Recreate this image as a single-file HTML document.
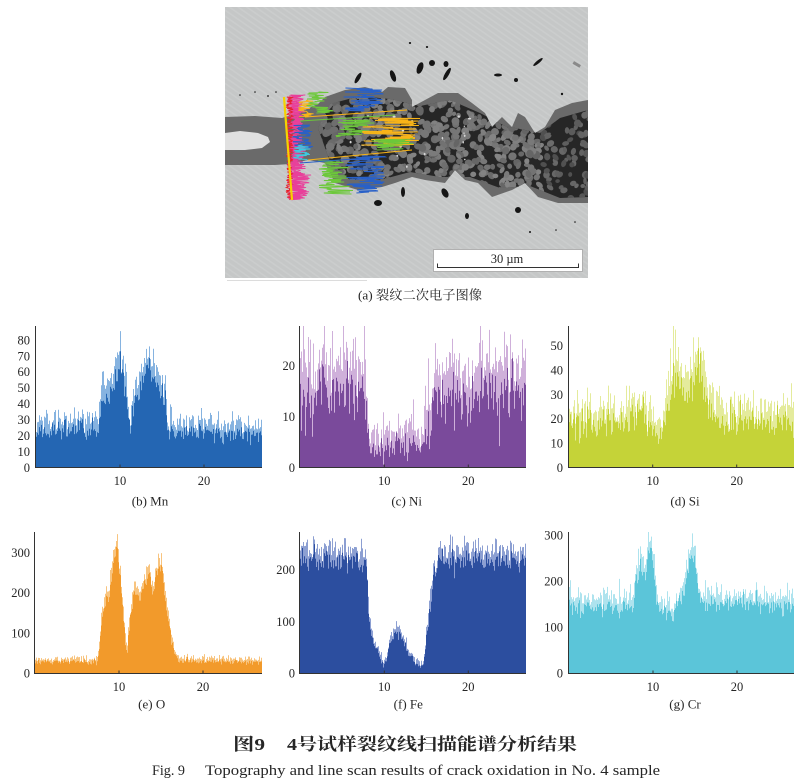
<!DOCTYPE html>
<html><head><meta charset="utf-8">
<style>
html,body{margin:0;padding:0;background:#fff;}
svg{display:block}
text{font-family:"Liberation Serif","Noto Serif CJK SC",serif;fill:#262626;}
.tk{font-size:12.5px;}
.cap{font-size:13px;}
</style></head><body>
<svg id="s" width="800" height="784" viewBox="0 0 800 784" xmlns="http://www.w3.org/2000/svg">
<defs>
<clipPath id="imgclip"><rect x="225" y="7" width="363" height="271"/></clipPath>
<clipPath id="crackclip"><polygon points="225,117 255,116 282,118 300,112 318,104 325,97 345,90 365,87 382,92 388,87 405,88 412,100 412,107 425,100 438,93 458,93 472,103 485,113 492,127 502,117 512,127 518,113 525,117 535,133 545,127 555,110 572,103 588,100 588,203 558,203 538,197 525,183 512,190 492,197 478,183 465,180 455,170 445,183 425,180 412,177 395,183 382,187 358,190 335,183 325,163 308,160 290,164 275,165 250,165 225,165"/></clipPath>
<clipPath id="coreclip"><polygon points="318,128 330,104 360,96 390,99 420,106 450,100 480,113 505,126 540,133 560,118 588,110 588,197 560,198 530,186 500,188 470,177 440,177 410,172 380,180 350,180 330,162"/></clipPath>
<pattern id="streak" width="5" height="5" patternUnits="userSpaceOnUse" patternTransform="rotate(-55)"><rect width="5" height="5" fill="#c5c7c7"/><rect width="1.6" height="5" fill="#cbcdcd"/></pattern>
</defs>

<!-- SEM image -->
<g clip-path="url(#imgclip)">
  <rect x="225" y="7" width="363" height="271" fill="url(#streak)"/>
  <g clip-path="url(#crackclip)">
    <rect x="225" y="80" width="363" height="130" fill="#6a6a6a"/>
    <g clip-path="url(#coreclip)">
      <rect x="310" y="90" width="280" height="115" fill="#262626"/>
      <g id="grains"></g>
    </g>
  </g>
  <polygon points="225,133 240,131 258,133 268,137 270,142 262,148 245,150 225,150" fill="#e0e0e0"/>
  <g fill="#151515">
    <ellipse cx="358" cy="78" rx="2" ry="6" transform="rotate(30 358 78)"/>
    <ellipse cx="393" cy="76" rx="2.5" ry="6" transform="rotate(-20 393 76)"/>
    <ellipse cx="420" cy="68" rx="3" ry="6" transform="rotate(20 420 68)"/>
    <ellipse cx="432" cy="63" rx="3" ry="3"/>
    <ellipse cx="447" cy="74" rx="2" ry="7" transform="rotate(30 447 74)"/>
    <ellipse cx="446" cy="64" rx="2.5" ry="3"/>
    <ellipse cx="538" cy="62" rx="1.5" ry="6" transform="rotate(50 538 62)"/>
    <ellipse cx="498" cy="75" rx="4" ry="1.5"/>
    <ellipse cx="516" cy="80" rx="2" ry="2"/>
    <ellipse cx="378" cy="203" rx="4" ry="3"/>
    <ellipse cx="403" cy="192" rx="2" ry="5"/>
    <ellipse cx="445" cy="193" rx="3" ry="5" transform="rotate(-30 445 193)"/>
    <ellipse cx="467" cy="216" rx="2" ry="3"/>
    <ellipse cx="518" cy="210" rx="3" ry="3"/>
    <ellipse cx="410" cy="43" rx="1.2" ry="1"/>
    <ellipse cx="427" cy="47" rx="1.2" ry="1"/>
    <ellipse cx="562" cy="94" rx="1.2" ry="1.2"/>
    <ellipse cx="240" cy="95" rx="0.8" ry="0.8"/>
    <ellipse cx="255" cy="92" rx="0.8" ry="0.8"/>
    <ellipse cx="268" cy="96" rx="0.9" ry="0.9"/>
    <ellipse cx="276" cy="92" rx="0.8" ry="0.8"/>
    <ellipse cx="530" cy="232" rx="1" ry="1"/>
    <ellipse cx="556" cy="230" rx="0.8" ry="0.8"/>
    <ellipse cx="575" cy="222" rx="0.8" ry="0.8"/>
  </g>
  <rect x="573" y="63" width="8" height="3" fill="#8a8a8a" transform="rotate(30 577 64)"/>
  <g id="traces"></g>
  <rect x="433.5" y="249.5" width="149" height="22" fill="#ffffff" stroke="#b0b0b0" stroke-width="1"/>
  <path d="M437.5 263.5 V267.5 H578.5 V263.5" fill="none" stroke="#333" stroke-width="1"/>
  <text x="507" y="263" text-anchor="middle" style="font-size:12.5px">30 µm</text>
</g>
<line x1="227" y1="280.5" x2="367" y2="280.5" stroke="#dcdcdc" stroke-width="1"/>
<text x="420" y="299.5" text-anchor="middle" style="font-size:13px" textLength="124" lengthAdjust="spacingAndGlyphs">(a) 裂纹二次电子图像</text>

<!-- bar groups -->
<g id="pb"></g><g id="pc"></g><g id="pd"></g><g id="pe"></g><g id="pf"></g><g id="pg"></g>

<!-- axes -->
<g fill="none" stroke="#333" stroke-width="1">
  <path d="M35.5 326 V467.5 H262"/>
  <path d="M299.5 326 V467.5 H526"/>
  <path d="M568.5 326 V467.5 H794"/>
  <path d="M34.5 532 V673.5 H262"/>
  <path d="M299.5 532 V673.5 H526"/>
  <path d="M568.5 532 V673.5 H794"/>
  <path d="M120 467.5 v-3 M204 467.5 v-3 M384.3 467.5 v-3 M468.3 467.5 v-3 M652.7 467.5 v-3 M736.7 467.5 v-3 M119 673.5 v-3 M203 673.5 v-3 M384.3 673.5 v-3 M468.3 673.5 v-3 M653 673.5 v-3 M737 673.5 v-3"/>
</g>

<!-- tick labels -->
<g class="tk" text-anchor="end">
  <text x="30" y="472">0</text>
  <text x="30" y="456">10</text>
  <text x="30" y="440.1">20</text>
  <text x="30" y="424.1">30</text>
  <text x="30" y="408.2">40</text>
  <text x="30" y="392.2">50</text>
  <text x="30" y="376.2">60</text>
  <text x="30" y="360.3">70</text>
  <text x="30" y="344.3">80</text>

  <text x="295" y="472">0</text>
  <text x="295" y="421">10</text>
  <text x="295" y="370">20</text>

  <text x="563" y="472">0</text>
  <text x="563" y="447.6">10</text>
  <text x="563" y="423.2">20</text>
  <text x="563" y="398.8">30</text>
  <text x="563" y="374.4">40</text>
  <text x="563" y="350">50</text>

  <text x="30" y="677.6">0</text>
  <text x="30" y="637.4">100</text>
  <text x="30" y="597.2">200</text>
  <text x="30" y="557">300</text>

  <text x="295" y="677.6">0</text>
  <text x="295" y="625.9">100</text>
  <text x="295" y="574.2">200</text>

  <text x="563" y="677.6">0</text>
  <text x="563" y="631.6">100</text>
  <text x="563" y="585.6">200</text>
  <text x="563" y="539.6">300</text>
</g>
<g class="tk" text-anchor="middle">
  <text x="120" y="485">10</text><text x="204" y="485">20</text>
  <text x="384.3" y="485">10</text><text x="468.3" y="485">20</text>
  <text x="652.7" y="485">10</text><text x="736.7" y="485">20</text>
  <text x="119" y="691">10</text><text x="203" y="691">20</text>
  <text x="384.3" y="691">10</text><text x="468.3" y="691">20</text>
  <text x="653" y="691">10</text><text x="737" y="691">20</text>
</g>
<g class="cap" text-anchor="middle">
  <text x="150" y="505.5">(b) Mn</text>
  <text x="406.7" y="505.5">(c) Ni</text>
  <text x="685" y="505.5">(d) Si</text>
  <text x="151.7" y="708.5">(e) O</text>
  <text x="408.3" y="708.5">(f) Fe</text>
  <text x="685" y="708.5">(g) Cr</text>
</g>

<!-- figure captions -->
<text x="233" y="750" style="font-size:17px;font-weight:bold" textLength="32" lengthAdjust="spacingAndGlyphs">图9</text>
<text x="287" y="750" style="font-size:17px;font-weight:bold" textLength="290" lengthAdjust="spacingAndGlyphs">4号试样裂纹线扫描能谱分析结果</text>
<text x="152" y="775" style="font-size:14.5px" textLength="33" lengthAdjust="spacingAndGlyphs">Fig. 9</text>
<text x="205" y="775" style="font-size:14.5px" textLength="455" lengthAdjust="spacingAndGlyphs">Topography and line scan results of crack oxidation in No. 4 sample</text>
</svg>

<script>
(function(){
const NS='http://www.w3.org/2000/svg';
function el(tag,attrs,parent){const e=document.createElementNS(NS,tag);for(const k in attrs)e.setAttribute(k,attrs[k]);parent.appendChild(e);return e;}
function mulberry32(a){return function(){a|=0;a=a+0x6D2B79F5|0;var t=Math.imul(a^a>>>15,1|a);t=t+Math.imul(t^t>>>7,61|t)^t;return((t^t>>>14)>>>0)/4294967296;}}
function interp(env,u){if(u<=env[0][0])return env[0][1];for(let i=1;i<env.length;i++){if(u<=env[i][0]){const a=env[i-1],b=env[i];const t=(u-a[0])/(b[0]-a[0]);return a[1]+t*(b[1]-a[1]);}}return env[env.length-1][1];}

const panels=[
 {g:'pb',x0:36,x1:262,y0:467.5,ys:1.596,top:326,k:1.0,dk:'#2466b3',lt:'#86b3e0',seed:11,
  env:[[0,25],[7.4,24],[7.7,40],[8.5,45],[9.3,55],[10,68],[10.5,58],[10.9,40],[11.2,22],[11.5,36],[12.3,48],[13.2,64],[14,60],[14.8,52],[15.4,40],[15.7,23],[27,23]]},
 {g:'pc',x0:300,x1:526,y0:467.5,ys:5.1,top:326,k:1.2,dk:'#7a4a9b',lt:'#cfb0da',seed:22,
  env:[[0,16],[7.8,16],[8.2,5],[11,4],[13,5.5],[14.8,5],[15.5,11],[16.2,15],[27,15.5]]},
 {g:'pd',x0:568.5,x1:794,y0:467.5,ys:2.44,top:326,k:1.2,dk:'#c5d338',lt:'#e4eb9c',seed:33,
  env:[[0,19],[6.5,19],[7.5,24],[8.3,24],[9.5,20],[10.4,13],[11,14],[11.8,24],[12.6,38],[13.2,36],[14,30],[14.8,34],[15.4,44],[15.9,40],[16.4,28],[17.5,21],[27,18]]},
 {g:'pe',x0:35,x1:262,y0:673.5,ys:0.402,top:532,k:1.1,dk:'#f29a2b',lt:'#f8c47f',seed:44,
  env:[[0,30],[7.5,30],[7.9,120],[8.3,175],[8.9,190],[9.4,280],[9.8,320],[10.2,230],[10.6,120],[10.95,55],[11.3,130],[11.9,215],[12.4,185],[13.0,245],[13.6,240],[14.1,205],[14.7,275],[15.1,265],[15.6,170],[16.1,100],[16.7,50],[17.2,32],[27,30]]},
 {g:'pf',x0:300,x1:526,y0:673.5,ys:0.517,top:532,k:1.2,dk:'#2c4e9f',lt:'#8c9fd2',seed:55,
  env:[[0,222],[7.8,222],[8.0,190],[8.3,95],[8.7,62],[9.3,45],[9.9,18],[10.3,28],[10.7,58],[11.3,80],[11.8,78],[12.3,62],[12.9,40],[13.6,25],[14.3,12],[14.7,16],[15.1,75],[15.5,140],[16.0,195],[16.6,222],[27,222]]},
 {g:'pg',x0:569,x1:794,y0:673.5,ys:0.46,top:532,k:1.25,dk:'#5bc5d9',lt:'#aee3ee',seed:66,
  env:[[0,150],[7.7,150],[7.9,195],[8.3,225],[8.7,245],[9.0,205],[9.3,250],[9.7,285],[10.0,270],[10.3,190],[10.6,140],[12.1,142],[12.4,118],[12.8,160],[13.6,170],[14.1,220],[14.6,265],[14.9,270],[15.3,200],[15.7,158],[27,150]]}
];

panels.forEach(P=>{
  const r=mulberry32(P.seed);
  const gs=()=>{let u=r()||1e-9,v=r();return Math.sqrt(-2*Math.log(u))*Math.cos(2*Math.PI*v);};
  let dark='',light='';
  for(let c=Math.round(P.x0);c<P.x1;c++){
    const px=c+0.5;
    const u=(px-P.x0)/8.4;
    const e=interp(P.env,u);
    const s=P.k*Math.sqrt(Math.max(e,1));
    const a=[e+gs()*s,e+gs()*s,e+gs()*s,e+gs()*s].sort((p,q)=>p-q);
    const d=Math.max(0,a[1]), l=Math.max(0,a[3]);
    const yd=Math.max(P.top,P.y0-d*P.ys), yl=Math.max(P.top,P.y0-l*P.ys);
    light+='M'+px+' '+P.y0+'V'+yl.toFixed(1);
    dark+='M'+px+' '+P.y0+'V'+yd.toFixed(1);
  }
  const g=document.getElementById(P.g);
  el('path',{d:light,stroke:P.lt,'stroke-width':1,fill:'none'},g);
  el('path',{d:dark,stroke:P.dk,'stroke-width':1,fill:'none'},g);
});

/* SEM grains: irregular, randomly placed */
(function(){
  const r=mulberry32(777);
  const g=document.getElementById('grains');
  for(let i=0;i<900;i++){
    const cx=312+r()*278, cy=90+r()*115;
    let rx=2.2+r()*2.4, ry=2.0+r()*2.2;
    let v;
    if(cx>542){ if(r()<0.45) continue; v=78+Math.floor(r()*30); rx*=0.9; ry*=0.9; }
    else if(cx<338){ rx+=0.8; ry+=0.8; v=98+Math.floor(r()*20); }
    else { v=100+Math.floor(r()*34); }
    const col='rgb('+v+','+v+','+v+')';
    const rot=Math.floor(r()*180);
    el('ellipse',{cx:cx.toFixed(1),cy:cy.toFixed(1),rx:rx.toFixed(1),ry:ry.toFixed(1),fill:col,transform:'rotate('+rot+' '+cx.toFixed(1)+' '+cy.toFixed(1)+')'},g);
  }
  for(let i=0;i<25;i++){
    const x=330+r()*150, y=110+r()*60;
    el('ellipse',{cx:x.toFixed(1),cy:y.toFixed(1),rx:(0.6+r()*1.2).toFixed(1),ry:(0.6+r()*0.8).toFixed(1),fill:'#d6d6d6'},g);
  }
})();

/* line-scan traces */
(function(){
  const r=mulberry32(999);
  const g=document.getElementById('traces');
  function zig(col,xa,xb,ya,yb,pw,st){
    let pts=[];
    for(let y=ya;y<=yb;y+=(st||0.7)){const t=Math.pow(r(),pw);pts.push((xa+t*(xb-xa)).toFixed(1)+','+y.toFixed(1));}
    el('polyline',{points:pts.join(' '),fill:'none',stroke:col,'stroke-width':0.9},g);
  }
  function ln(col,x1,y1,x2,y2,w){el('line',{x1:x1,y1:y1,x2:x2,y2:y2,stroke:col,'stroke-width':w||1},g);}
  zig('#e8409a',287,306,95,200,1.2,0.5);
  zig('#e8409a',289,303,95,200,1.0,0.5);
  zig('#e8202a',286,293,97,200,1,0.6);
  zig('#2860c8',293,313,125,148,1.1,0.5);
  zig('#40c8e0',293,311,145,160,1.1,0.5);
  zig('#f8b418',298,314,100,117,1.2,0.6);
  zig('#e8409a',290,312,175,198,1.3,0.6);
  zig('#6cc83a',307,333,92,113,1.2,0.5);
  zig('#2860c8',343,384,88,111,0.8,0.5);
  zig('#6cc83a',333,380,120,137,1.0,0.6);
  zig('#f8b418',360,424,118,146,1.2,0.5);
  zig('#6cc83a',372,414,138,150,1.1,0.6);
  zig('#6cc83a',318,353,160,194,1.0,0.5);
  zig('#2860c8',345,386,156,193,0.9,0.5);
  ln('#f5d300',284,97,292,200,2.2);
  ln('#f8b418',305,117,407,110,1);
  ln('#6cc83a',300,121,395,115,1);
  ln('#f8b418',308,160,412,150,1);
  ln('#2860c8',300,163,380,157,1);
})();
})();
</script>
</body></html>
